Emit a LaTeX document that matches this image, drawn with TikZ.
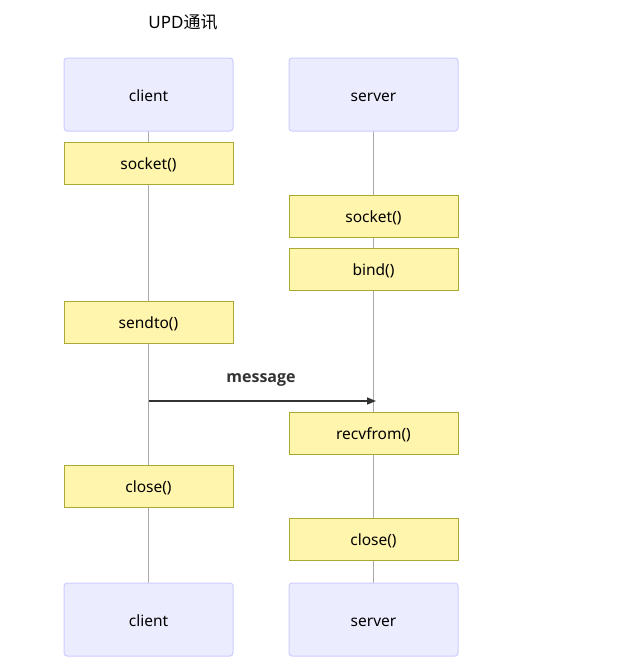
\documentclass[tikz,border=0pt]{standalone}
\usepackage{fontspec}
\setmainfont{Noto Sans}
\newfontfamily\cjk{Noto Sans CJK SC}
\newfontfamily\boldsans{Open Sans}
\usetikzlibrary{arrows.meta}
\definecolor{actfill}{HTML}{ECECFF}
\definecolor{actdraw}{HTML}{CCCCFF}
\definecolor{notefill}{HTML}{FFF5AD}
\definecolor{notedraw}{HTML}{AAAA33}
\definecolor{lifeline}{HTML}{AAAAAA}
\definecolor{msg}{HTML}{333333}
\begin{document}
\begin{tikzpicture}[x=1pt,y=-1pt,
  actor/.style={draw=actdraw,fill=actfill,rounded corners=3pt,line width=1pt,minimum width=169pt,minimum height=73pt,inner sep=0pt,text height=14pt,text depth=1pt,font=\fontsize{15.5}{18}\selectfont},
  note/.style={draw=notedraw,fill=notefill,line width=1pt,minimum width=169pt,minimum height=42pt,inner sep=0pt,text height=14pt,text depth=1pt,font=\fontsize{15.5}{18}\selectfont},
  life/.style={draw=lifeline,line width=0.8pt},
  message/.style={draw=msg,line width=1.5pt,-{Triangle[length=9pt,width=7pt]}}]
\useasboundingbox (0,0) rectangle (634,670);
\node[font=\fontsize{17}{20}\selectfont] (title) at (183,22) {UPD{\cjk 通讯}};
% lifelines first
\coordinate (cl1) at (148.5,131);
\coordinate (cl2) at (148.5,583);
\coordinate (sl1) at (373.5,131);
\coordinate (sl2) at (373.5,583);
\draw[life] (cl1) -- (cl2);
\draw[life] (sl1) -- (sl2);
\node[actor] (ctop) at (148.5,94.5) {client};
\node[actor] (stop) at (373.5,94.5) {server};
\node[actor] (cbot) at (148.5,619.5) {client};
\node[actor] (sbot) at (373.5,619.5) {server};
\node[note] (n1) at (148.5,163) {socket()};
\node[note] (n2) at (373.5,216) {socket()};
\node[note] (n3) at (373.5,269) {bind()};
\node[note] (n4) at (148.5,322) {sendto()};
\node[note] (n5) at (373.5,433) {recvfrom()};
\node[note] (n6) at (148.5,486) {close()};
\node[note] (n7) at (373.5,539) {close()};
\coordinate (ma) at (148.5,401);
\coordinate (mb) at (376,401);
\draw[message] (ma) -- (mb);
\node[font=\boldsans\fontsize{16}{18}\selectfont\bfseries,text=msg] (mlabel) at (261,380) {message};
\end{tikzpicture}
\end{document}
